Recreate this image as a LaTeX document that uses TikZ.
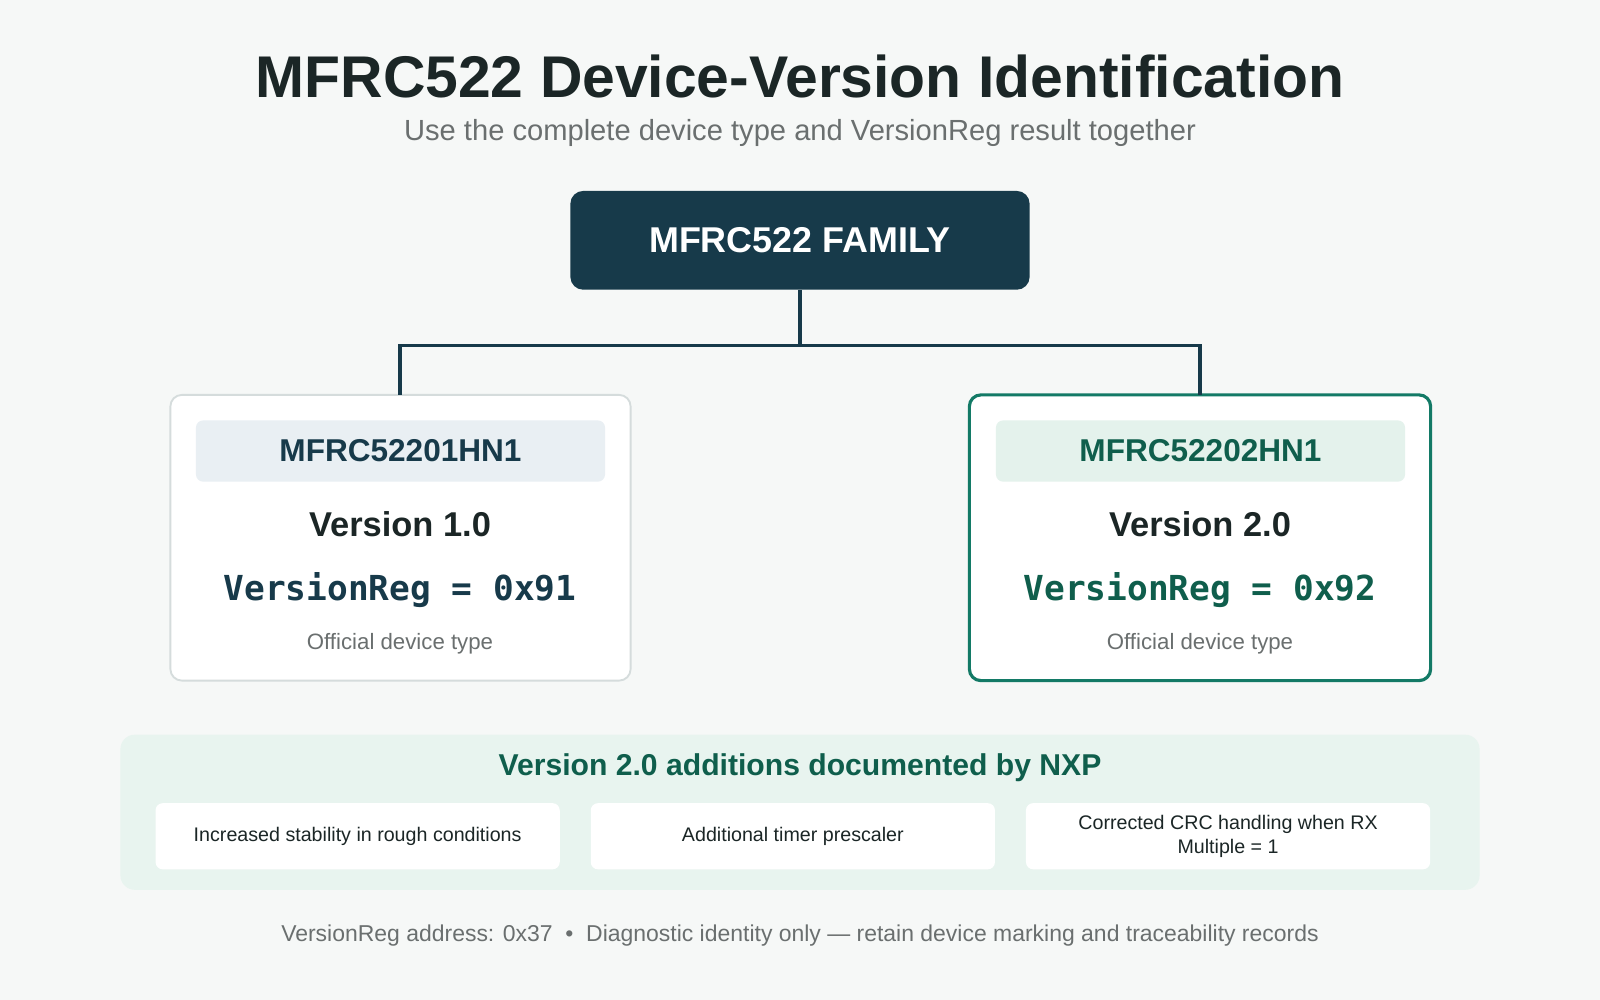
\documentclass[tikz,border=0pt]{standalone}
\usepackage{fontspec}
\setmainfont{Liberation Sans}
\setmonofont{DejaVu Sans Mono}
\usetikzlibrary{positioning}
\definecolor{navy}{HTML}{173A4A}
\definecolor{teal}{HTML}{137A66}
\definecolor{tealtext}{HTML}{0F5E4C}
\definecolor{inkdark}{HTML}{1B2626}
\definecolor{greytext}{HTML}{6A6F6F}
\definecolor{cardline}{HTML}{D5DCDC}
\definecolor{headgrey}{HTML}{E9EFF3}
\definecolor{headgreen}{HTML}{E4F2EC}
\definecolor{bannerfill}{HTML}{E8F4EF}
\definecolor{pagebg}{HTML}{F6F8F7}
\newcommand{\fs}[1]{\fontsize{#1}{1.2\dimexpr#1\relax}\selectfont}

\begin{document}
\begin{tikzpicture}[x=0.025cm, y=-0.025cm,
  card/.style={draw, fill=white, rounded corners=8pt, line width=1.3pt},
  header/.style={fill=#1, rounded corners=5pt, minimum width=10.02cm, minimum height=1.5cm, font=\fs{22pt}\bfseries},
  chip/.style={fill=white, rounded corners=5pt, minimum width=9.9cm, minimum height=1.62cm, align=center, font=\fs{13.7pt}, text=inkdark},
  tree/.style={draw=navy, line width=2.2pt}]
\fill[pagebg] (0,0) rectangle (1568,980);

% heading
\node[font=\fs{41pt}\bfseries, text=inkdark] (title) at (784,75) {MFRC522 Device-Version Identification};
\node[font=\fs{20.3pt}, text=greytext] (sub) at (784,130) {Use the complete device type and VersionReg result together};

% family root
\node[fill=navy, rounded corners=9pt, minimum width=11.25cm, minimum height=2.42cm, text=white, font=\fs{25pt}\bfseries] (family) at (784,235.5) {MFRC522 FAMILY};

% version cards
\draw[card, draw=cardline] (167,387) rectangle (618,667);
\draw[card, draw=teal, line width=2.2pt] (950,387) rectangle (1402,667);
\node[header=headgrey, text=navy] (part1) at (392.5,442) {MFRC52201HN1};
\node[header=headgreen, text=tealtext] (part2) at (1176.5,442) {MFRC52202HN1};
\node[font=\fs{24pt}\bfseries, text=inkdark] (ver1) at (392,514) {Version 1.0};
\node[font=\fs{24pt}\bfseries, text=inkdark] (ver2) at (1176,514) {Version 2.0};
\node[font=\fs{24pt}\ttfamily\bfseries, text=navy] (reg1) at (392,578) {VersionReg = 0x91};
\node[font=\fs{24pt}\ttfamily\bfseries, text=tealtext] (reg2) at (1176,578) {VersionReg = 0x92};
\node[font=\fs{15.5pt}, text=greytext] (off1) at (392,631) {Official device type};
\node[font=\fs{15.5pt}, text=greytext] (off2) at (1176,631) {Official device type};
\coordinate (top1) at (392,387);
\coordinate (top2) at (1176,387);

\draw[tree] (family.south) -- ++(0,54) -| (top1);
\draw[tree] (family.south) ++(0,54) -| (top2);

% additions banner
\fill[bannerfill, rounded corners=10pt] (118,720) rectangle (1450,872);
\node[font=\fs{21pt}\bfseries, text=tealtext] (adds) at (784,752) {Version 2.0 additions documented by NXP};
\node[chip] (add1) at (350.5,819.5) {Increased stability in rough conditions};
\node[chip] (add2) at (777,819.5) {Additional timer prescaler};
\node[chip] (add3) at (1203.5,819.5) {Corrected CRC handling when RX\\Multiple = 1};

% footer
\node[font=\fs{16pt}, text=greytext] (foot) at (784,917) {VersionReg address: 0x37 \ • \ Diagnostic identity only — retain device marking and traceability records};
\end{tikzpicture}
\end{document}
